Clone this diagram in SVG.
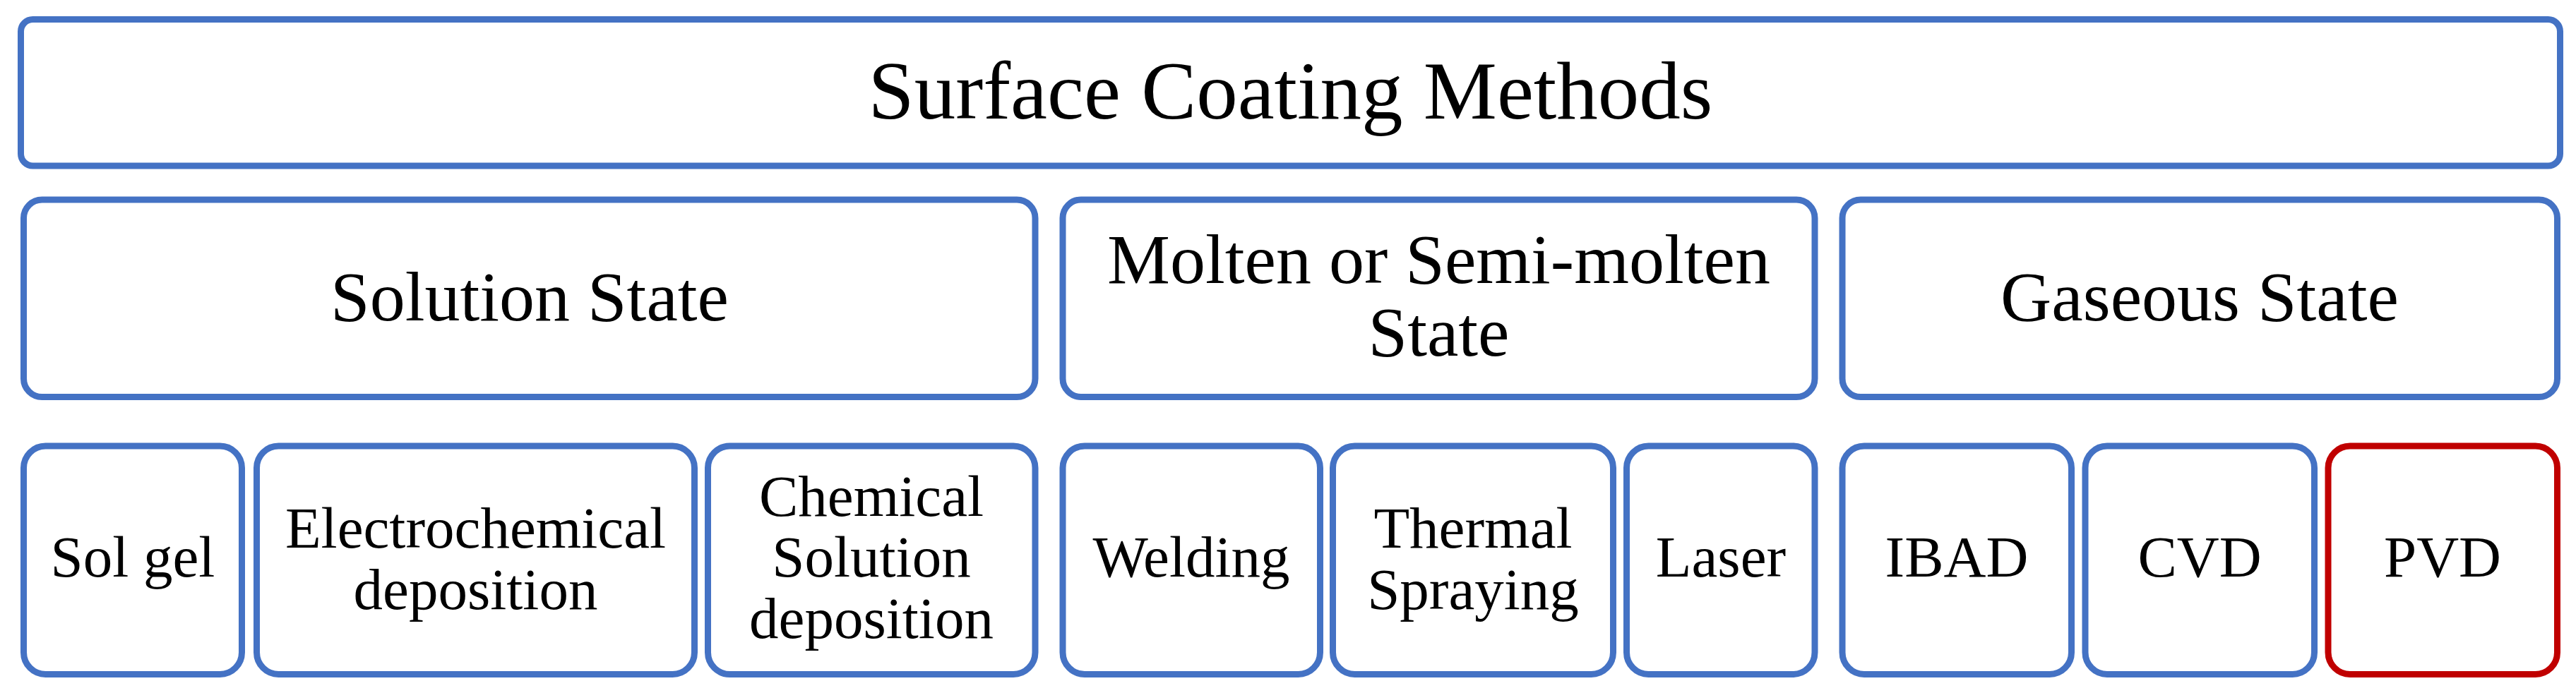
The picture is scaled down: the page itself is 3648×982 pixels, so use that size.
<svg xmlns="http://www.w3.org/2000/svg" width="3648" height="982" viewBox="0 0 3648 982">
<style>
.b{fill:#ffffff;stroke:#4472C4;stroke-width:9}
.r{fill:#ffffff;stroke:#C00000;stroke-width:9}
text{font-family:"Liberation Serif","Times New Roman",serif;fill:#000000;text-anchor:middle}
.t1{font-size:117px}
.t2{font-size:100px}
.t3{font-size:83px}
</style>
<rect x="0" y="0" width="3648" height="982" fill="#ffffff"/>
<g id="connectors"></g>
<g id="root">
<rect class="b" x="29.5" y="27.5" width="3596" height="207.5" rx="17" ry="17"/>
<text class="t1" x="1827.5" y="168">Surface Coating Methods</text>
</g>
<g id="solution">
<rect class="b" x="33.5" y="283" width="1432.5" height="279.5" rx="26" ry="26"/>
<text class="t2" x="750" y="454">Solution State</text>
</g>
<g id="molten">
<rect class="b" x="1505" y="283" width="1065" height="279.5" rx="26" ry="26"/>
<text class="t2" x="2037.5" y="401">Molten or Semi-molten</text>
<text class="t2" x="2037.5" y="504">State</text>
</g>
<g id="gaseous">
<rect class="b" x="2609" y="283" width="1012.5" height="279.5" rx="26" ry="26"/>
<text class="t2" x="3115" y="454">Gaseous State</text>
</g>
<g id="solgel">
<rect class="b" x="33.5" y="632" width="309" height="323.5" rx="31" ry="31"/>
<text class="t3" x="188" y="817">Sol gel</text>
</g>
<g id="electrochemical">
<rect class="b" x="363.5" y="632" width="620" height="323.5" rx="31" ry="31"/>
<text class="t3" x="673.5" y="776">Electrochemical</text>
<text class="t3" x="673.5" y="863">deposition</text>
</g>
<g id="chemical">
<rect class="b" x="1002.5" y="632" width="463.5" height="323.5" rx="31" ry="31"/>
<text class="t3" x="1234" y="731">Chemical</text>
<text class="t3" x="1234" y="817">Solution</text>
<text class="t3" x="1234" y="904">deposition</text>
</g>
<g id="welding">
<rect class="b" x="1505" y="632" width="364.5" height="323.5" rx="31" ry="31"/>
<text class="t3" x="1687" y="817">Welding</text>
</g>
<g id="thermal">
<rect class="b" x="1887.5" y="632" width="397" height="323.5" rx="31" ry="31"/>
<text class="t3" x="2086" y="776">Thermal</text>
<text class="t3" x="2086" y="863">Spraying</text>
</g>
<g id="laser">
<rect class="b" x="2303.5" y="632" width="266.5" height="323.5" rx="31" ry="31"/>
<text class="t3" x="2437" y="817">Laser</text>
</g>
<g id="ibad">
<rect class="b" x="2609" y="632" width="324.5" height="323.5" rx="31" ry="31"/>
<text class="t3" x="2771" y="817">IBAD</text>
</g>
<g id="cvd">
<rect class="b" x="2953" y="632" width="324.5" height="323.5" rx="31" ry="31"/>
<text class="t3" x="3115" y="817">CVD</text>
</g>
<g id="pvd">
<rect class="r" x="3297" y="632" width="324.5" height="323.5" rx="31" ry="31"/>
<text class="t3" x="3459" y="817">PVD</text>
</g>
</svg>
